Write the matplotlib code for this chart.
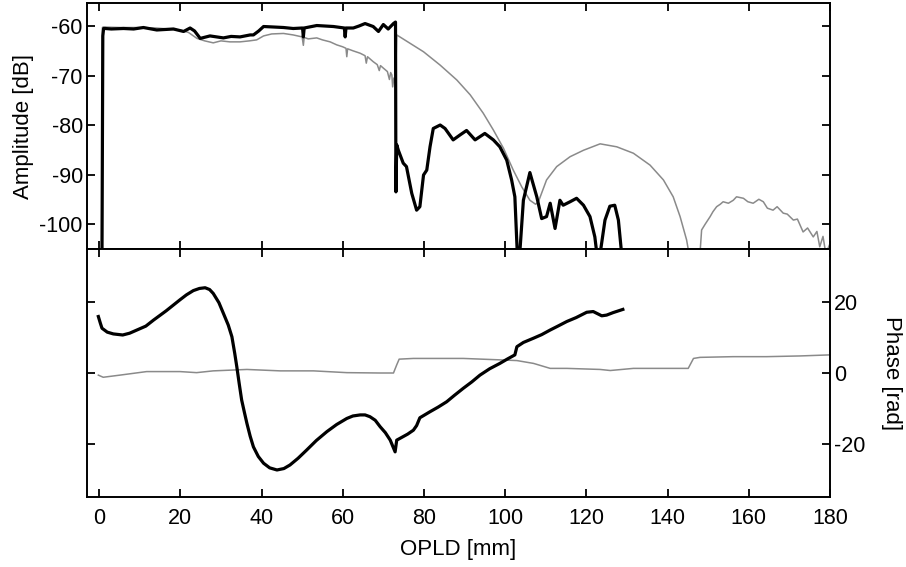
import matplotlib
matplotlib.use("Agg")
import matplotlib.pyplot as plt

plt.rcParams['font.family'] = ['Liberation Sans', 'DejaVu Sans']
plt.rcParams['axes.unicode_minus'] = False

# ---- Amplitude (top) ----
amp_black_x = [0.7, 0.9, 1.1, 1.5, 3.0, 6.0, 8.5, 10.9, 14.2, 18.3, 20.8, 22.4, 23.5, 24.9, 27.3, 30.6, 32.5,
               34.7, 37.2, 38.0, 39.3, 40.5, 43.0, 45.4, 47.8, 50.1, 50.3, 50.5, 53.6, 57.7, 60.4, 60.6, 60.8,
               62.6, 64.0, 65.5, 67.5, 68.8, 70.0, 71.2, 72.5, 73.0, 73.1, 73.3, 73.7, 74.9, 75.7, 77.0, 78.2,
               79.0, 79.9, 80.7, 81.5, 82.3, 84.0, 85.2, 87.2, 88.9, 90.5, 92.6, 95.0, 97.1, 98.7, 100.4,
               101.6, 102.4, 103.0, 103.6, 104.5, 106.1, 107.8, 109.0, 110.2, 111.1, 112.3, 113.5, 114.3,
               116.0, 117.6, 119.3, 120.9, 122.1, 122.6, 123.4, 124.6, 125.8, 127.0, 127.9, 128.7]
amp_black_y = [-106, -62.0, -60.5, -60.5, -60.6, -60.5, -60.6, -60.3, -60.8, -60.6, -61.1, -60.4, -61.0, -62.5, -62.0, -62.4, -62.1,
               -62.2, -61.8, -61.8, -61.0, -60.1, -60.2, -60.3, -60.5, -60.4, -62.2, -60.4, -59.9, -60.1, -60.4, -62.2, -60.4,
               -60.4, -60.0, -59.5, -60.1, -61.1, -59.7, -60.6, -59.5, -59.2, -93.5, -84.0, -85.1, -87.7, -88.4, -93.8, -97.2,
               -96.5, -90.1, -89.1, -84.4, -80.7, -80.0, -80.7, -83.0, -82.0, -81.1, -83.0, -81.7, -83.0, -84.4, -87.1,
               -91.1, -94.5, -106.0, -106.0, -95.2, -89.6, -94.5, -98.9, -98.5, -95.8, -100.9, -95.2, -96.2,
               -95.5, -94.8, -96.2, -98.5, -102.6, -106.0, -106.0, -99.2, -96.4, -96.2, -99.2, -106.0]

amp_gray_x = [0.6, 0.8, 1.0, 5.0, 9.3, 14.0, 19.9, 22.0, 24.1, 26.0, 28.1, 30.0, 32.2, 34.7, 37.0, 38.8, 40.5,
              42.5, 45.4, 47.8, 50.0, 50.3, 50.5, 51.5, 53.6, 55.0, 56.9, 58.5, 60.0, 60.8, 61.0, 61.2,
              62.5, 64.3, 65.5, 65.8, 66.1, 67.5, 68.5, 69.0, 69.3, 70.0, 71.0, 71.5, 71.8, 72.1, 72.3, 72.6, 73.0,
              73.3, 76.6, 79.9, 84.0, 88.1, 91.4, 94.6, 97.1, 99.6, 102.0, 104.1, 106.1, 107.5, 108.2,
              110.2, 112.7, 116.0, 119.3, 123.4, 127.5, 131.6, 135.7, 139.0, 141.4, 143.1, 144.7, 145.3,
              148.0, 148.4, 149.3, 150.5, 151.2, 152.1, 153.0, 153.7, 155.0, 156.2, 157.0, 158.7, 159.8,
              161.1, 162.5, 163.6, 164.6, 166.0, 167.0, 168.5, 169.5, 171.0, 172.0, 173.4, 174.5, 175.9,
              176.8, 177.5, 178.3, 179.0, 180.0]
amp_gray_y = [-106.0, -60.3, -60.2, -60.3, -60.3, -60.4, -60.8, -61.3, -62.5, -63.0, -63.4, -63.0, -63.2, -63.2, -63.0, -62.8, -62.0,
              -61.6, -61.5, -61.8, -62.2, -63.9, -62.3, -62.6, -62.4, -62.8, -63.2, -63.8, -64.2, -64.5, -66.2, -64.6,
              -65.0, -65.5, -66.0, -67.5, -66.2, -67.2, -67.8, -69.0, -68.0, -68.5, -69.2, -70.8, -69.4, -69.9, -72.3, -70.5, -71.5,
              -61.8, -63.5, -65.2, -67.9, -70.9, -73.9, -77.6, -81.0, -84.7, -89.1, -92.5, -95.2, -96.0, -95.5,
              -91.1, -88.4, -86.4, -85.1, -83.8, -84.4, -85.7, -88.1, -91.1, -94.5, -98.5, -103.2, -106.0,
              -106.0, -101.2, -100.0, -98.5, -97.5, -96.5, -96.0, -95.5, -95.8, -95.2, -94.5, -94.8, -95.5,
              -95.8, -95.0, -95.5, -96.8, -97.2, -96.5, -97.8, -98.0, -99.2, -99.0, -101.6, -100.8, -102.6,
              -101.5, -104.6, -102.5, -106.0, -104.0]

# ---- Phase (bottom) ----
ph_black_x = [-0.2, 0.3, 0.7, 2.0, 3.5, 5.8, 7.5, 9.3, 11.5, 13.4, 16.5, 19.9, 21.5, 23.2, 24.7, 26.1, 27.2, 28.1,
              29.5, 30.6, 31.8, 32.7, 33.4, 33.9, 34.5, 35.1, 35.8, 36.4, 37.2, 38.0, 39.2, 40.5, 42.0, 43.8, 45.5,
              47.0, 49.0, 51.1, 53.5, 56.1, 58.5, 61.0, 62.5, 64.3, 65.5, 66.7, 68.0, 69.2, 70.5, 71.7, 72.9,
              73.3, 74.1, 76.0, 77.4, 78.2, 79.0, 81.5, 83.5, 85.6, 87.5, 89.7, 91.8, 93.8, 96.2, 98.7,
              100.5, 102.4, 102.9, 104.5, 107.0, 109.0, 111.1, 113.0, 115.2, 117.5, 120.1, 121.7, 123.8,
              125.0, 126.6, 129.0]
ph_black_y = [15.9, 14.0, 12.6, 11.5, 11.0, 10.7, 11.2, 12.1, 13.2, 14.9, 17.5, 20.6, 22.0, 23.2, 23.8, 24.0, 23.5, 22.4,
              19.8, 16.8, 13.5, 10.2, 5.5, 1.8, -3.0, -7.6, -11.2, -14.2, -17.8, -20.8, -23.5, -25.4, -26.7, -27.3, -26.9,
              -25.9, -24.0, -21.7, -19.0, -16.5, -14.5, -12.8, -12.1, -11.8, -11.8, -12.3, -13.3, -15.1, -16.8, -18.9, -22.2,
              -18.9, -18.4, -17.2, -16.1, -14.8, -12.6, -10.9, -9.6, -8.1, -6.3, -4.3, -2.5, -0.6, 1.2, 2.7,
              3.9, 5.1, 7.4, 8.6, 9.8, 10.8, 12.1, 13.2, 14.5, 15.6, 17.1, 17.3, 16.1,
              16.3, 17.0, 17.9]

ph_gray_x = [-0.2, 1.0, 5.1, 11.7, 19.9, 24.0, 28.1, 36.4, 44.6, 52.8, 61.0, 69.2, 72.5, 73.3, 73.9, 77.4,
             89.7, 98.7, 102.9, 107.0, 111.1, 115.2, 123.4, 125.9, 131.6, 139.8, 145.1, 146.4, 148.0,
             156.2, 164.4, 172.6, 180.0]
ph_gray_y = [-0.6, -1.2, -0.6, 0.4, 0.4, 0.1, 0.6, 1.0, 0.6, 0.6, 0.1, 0.0, 0.0, 2.3, 3.9, 4.1,
             4.1, 3.7, 3.5, 2.7, 1.3, 1.3, 1.0, 0.7, 1.3, 1.3, 1.3, 4.1, 4.4,
             4.6, 4.6, 4.8, 5.1]

x_ticks = [0, 20, 40, 60, 80, 100, 120, 140, 160, 180]
amp_ticks = [-100, -90, -80, -70, -60]
ph_ticks = [-20, 0, 20]

fig = plt.figure(figsize=(9.06, 5.67), dpi=100)
ax1 = fig.add_axes([0.096, 0.5608, 0.82, 0.4339])
ax2 = fig.add_axes([0.096, 0.1235, 0.82, 0.4373], sharex=ax1)

gray = '#8a8a8a'
ax1.plot(amp_gray_x, amp_gray_y, color=gray, lw=1.1)
ax1.plot(amp_black_x, amp_black_y, color='black', lw=2.3)
ax2.plot(ph_gray_x, ph_gray_y, color=gray, lw=1.1)
ax2.plot(ph_black_x, ph_black_y, color='black', lw=2.3)

ax1.set_xlim(-3, 180)
ax1.set_ylim(-105.05, -55.35)
ax2.set_ylim(-34.9, 34.9)

fs_tick = 15.5
fs_lab = 16
for ax in (ax1, ax2):
    ax.set_xticks(x_ticks)
    ax.tick_params(direction='in', length=6, width=1.3, top=True, right=True, left=True, bottom=True,
                   labelsize=fs_tick, pad=3)
    ax.tick_params(axis='x', pad=8)
    for s in ax.spines.values():
        s.set_linewidth(1.4)

ax1.set_yticks(amp_ticks)
ax1.tick_params(labelbottom=False)
ax1.set_ylabel('Amplitude [dB]', fontsize=fs_lab, labelpad=4)

ax2.set_yticks(ph_ticks)
ax2.tick_params(labelleft=False, labelright=True)
ax2.yaxis.set_label_position('right')
ax2.set_ylabel('Phase [rad]', fontsize=fs_lab, rotation=270, labelpad=26)
ax2.set_xlabel('OPLD [mm]', fontsize=fs_lab, labelpad=7)
ax2.set_xticklabels([str(t) for t in x_ticks])

fig.savefig('out.png', dpi=100)
